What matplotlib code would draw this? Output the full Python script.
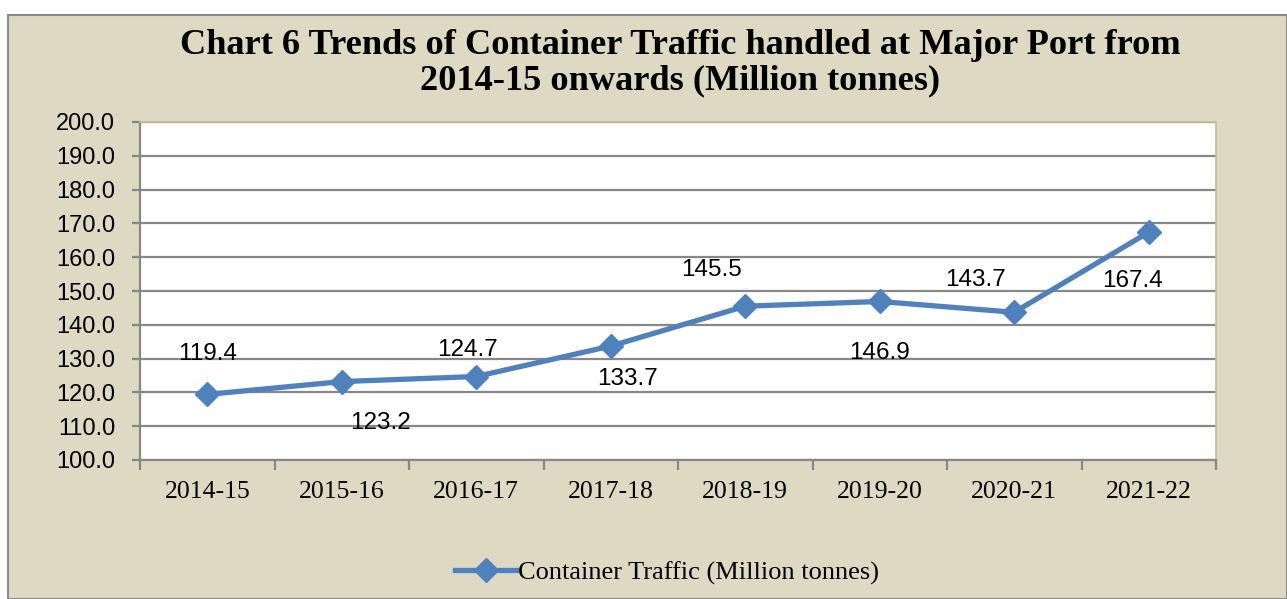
import numpy as np
import matplotlib.pyplot as plt
from matplotlib.patches import Rectangle
from matplotlib.lines import Line2D

# Data
years = ["2014-15", "2015-16", "2016-17", "2017-18", "2018-19", "2019-20", "2020-21", "2021-22"]
traffic = [119.4, 123.2, 124.7, 133.7, 145.5, 146.9, 143.7, 167.4]
y_ticks = [100, 110, 120, 130, 140, 150, 160, 170, 180, 190, 200]

# label offsets in points (as placed in the original)
label_offsets = [(0, 29), (28, -30), (-6, 19), (12, -24), (-24, 26), (0, -37), (-28, 23), (-12, -35)]

bg = "#DDD9C3"
blue = "#4F81BD"
grid = "#878787"

fig = plt.figure(figsize=(12.87, 5.99), dpi=100)
fig.patch.set_facecolor("white")
fig.patches.append(Rectangle((8 / 1287, 0), 1 - 8 / 1287, 1 - 15 / 599, transform=fig.transFigure,
                             facecolor=bg, edgecolor="#8C8C8C", linewidth=1.5, zorder=-1))

ax = fig.add_axes([140 / 1287, 1 - 460 / 599, (1216 - 140) / 1287, (460 - 122) / 599])
ax.set_facecolor("white")

x = np.arange(len(years))
ax.plot(x, traffic, color=blue, linewidth=3.8, marker="D", markersize=12, zorder=3)

for xi, v, off in zip(x, traffic, label_offsets):
    ax.annotate(f"{v:.1f}", (xi, v), xytext=off, textcoords="offset points",
                ha="center", va="center", fontsize=17.5, family="Liberation Sans", color="black")

ax.set_xlim(-0.5, len(years) - 0.5)
ax.set_ylim(100, 200)
ax.set_yticks(y_ticks)
ax.set_yticklabels([f"{t:.1f}" for t in y_ticks], family="Liberation Sans", fontsize=17)
ax.yaxis.grid(True, color=grid, linewidth=1.6)
ax.set_axisbelow(True)

ax.set_xticks(x)
ax.set_xticklabels(years, family="Liberation Serif", fontsize=18.5)
ax.set_xticks(np.arange(-0.5, len(years)), minor=True)
ax.tick_params(axis="x", which="major", length=0, pad=15)
ax.tick_params(axis="x", which="minor", length=7, width=1.6, color=grid)
ax.tick_params(axis="y", length=6, width=1.6, color=grid, pad=12)

for s in ["left", "bottom"]:
    ax.spines[s].set_color(grid)
    ax.spines[s].set_linewidth(1.6)
for s in ["top", "right"]:
    ax.spines[s].set_color("#C4BD97")
    ax.spines[s].set_linewidth(1.2)

fig.text(680 / 1287, 1 - 63 / 599, "Chart 6 Trends of Container Traffic handled at Major Port from\n2014-15 onwards (Million tonnes)",
         ha="center", va="center", fontsize=26.2, fontweight="bold", family="Liberation Serif", linespacing=1.12)

handle = Line2D([], [], color=blue, linewidth=3.8, marker="D", markersize=12)
fig.legend([handle], ["Container Traffic (Million tonnes)"], loc="center", bbox_to_anchor=(667 / 1287, 1 - 573 / 599),
           frameon=False, prop={"family": "Liberation Serif", "size": 19}, handlelength=2.3, handletextpad=0.05)

fig.savefig("out.png", dpi=100, facecolor=fig.get_facecolor())
